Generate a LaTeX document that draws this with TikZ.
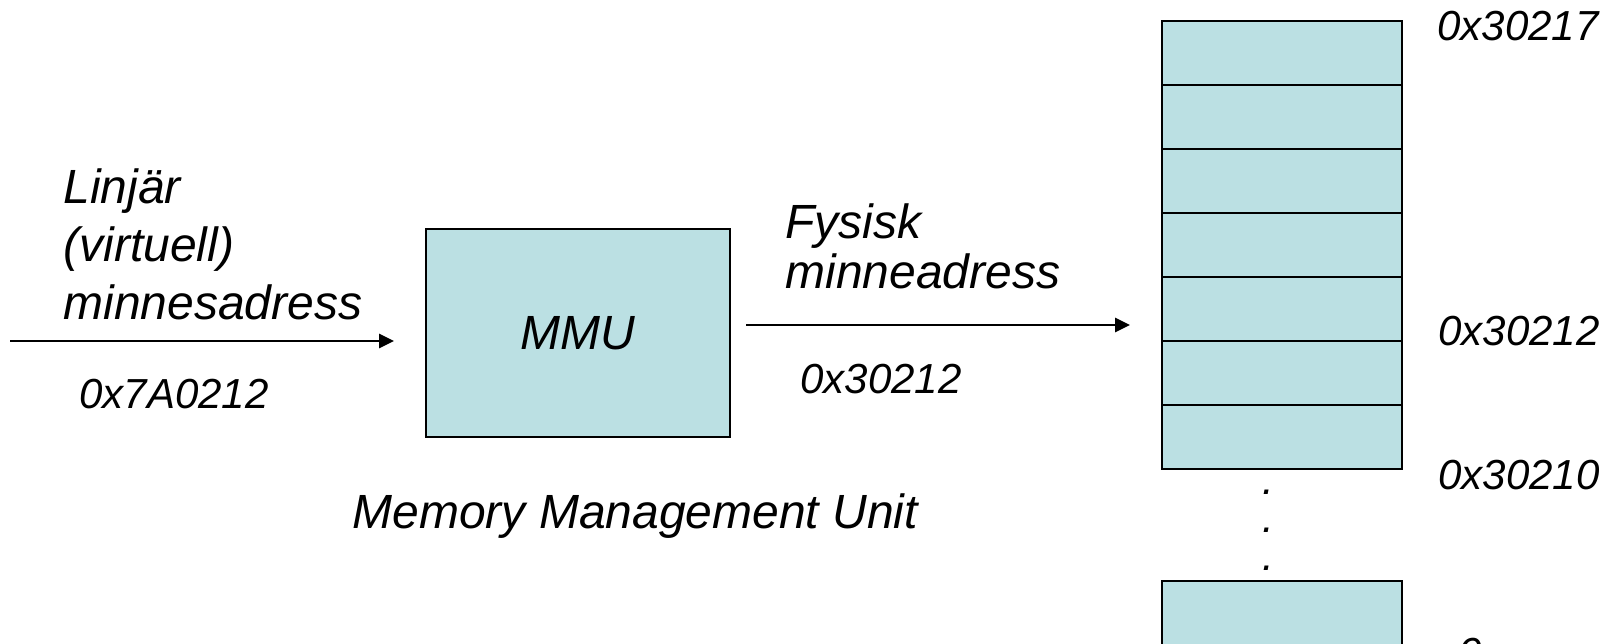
\documentclass[tikz,border=0pt]{standalone}
\usepackage{fontspec}
\setmainfont{Liberation Sans}
\usetikzlibrary{arrows.meta}
\definecolor{boxfill}{RGB}{187,224,227}
\tikzset{
  cell/.style={draw=black, fill=boxfill, line width=1.4pt, minimum width=120pt, minimum height=32pt, inner sep=0pt, outer sep=0pt},
  mmubox/.style={draw=black, fill=boxfill, line width=1.4pt, minimum width=152pt, minimum height=104pt, inner sep=0pt, outer sep=0pt},
  lbl/.style={anchor=base west, inner sep=0pt, font=\fontsize{24}{28}\selectfont\itshape},
  num/.style={anchor=base west, inner sep=0pt, font=\fontsize{21}{24}\selectfont\itshape},
  arr/.style={line width=1.4pt, -{Triangle[length=7.5pt,width=7pt]}}
}
\begin{document}
\begin{tikzpicture}[x=0.5pt,y=-0.5pt]
\useasboundingbox (0,0) rectangle (1612,643);
% memory column
\node[cell] (m1) at (1282,53) {};
\node[cell] (m2) at (1282,117) {};
\node[cell] (m3) at (1282,181) {};
\node[cell] (m4) at (1282,245) {};
\node[cell] (m5) at (1282,309) {};
\node[cell] (m6) at (1282,373) {};
\node[cell] (m7) at (1282,437) {};
\node[cell] (m0) at (1282,613) {};
% dots
\node[num] (d1) at (1262,494) {.};
\node[num] (d2) at (1262,532) {.};
\node[num] (d3) at (1262,570) {.};
% address labels
\node[num] (a17) at (1437,40) {0x30217};
\node[num] (a12) at (1438,345) {0x30212};
\node[num] (a10) at (1438,489) {0x30210};
\node[num] (a00) at (1458,667) {0};
% MMU
\node[mmubox] (mmu) at (578,333) {};
\node[font=\fontsize{24}{28}\selectfont\itshape] (mmut) at (mmu.center) {MMU};
\node[lbl] (mmuname) at (352,528) {Memory Management Unit};
% left input
\node[lbl] (l1) at (63,203) {Linjär};
\node[lbl] (l2) at (63,261) {(virtuell)};
\node[lbl] (l3) at (63,319) {minnesadress};
\node[num] (va) at (79,408) {0x7A0212};
\coordinate (ins) at (10,341);
\draw[arr, shorten >=16pt] (ins) -- (ins -| mmu.west);
% output
\node[lbl] (f1) at (785,238) {Fysisk};
\node[lbl] (f2) at (785,288) {minneadress};
\node[num] (pa) at (800,393) {0x30212};
\coordinate (outs) at (746,325);
\draw[arr, shorten >=16pt] (outs) -- (outs -| m5.west);
\end{tikzpicture}
\end{document}
